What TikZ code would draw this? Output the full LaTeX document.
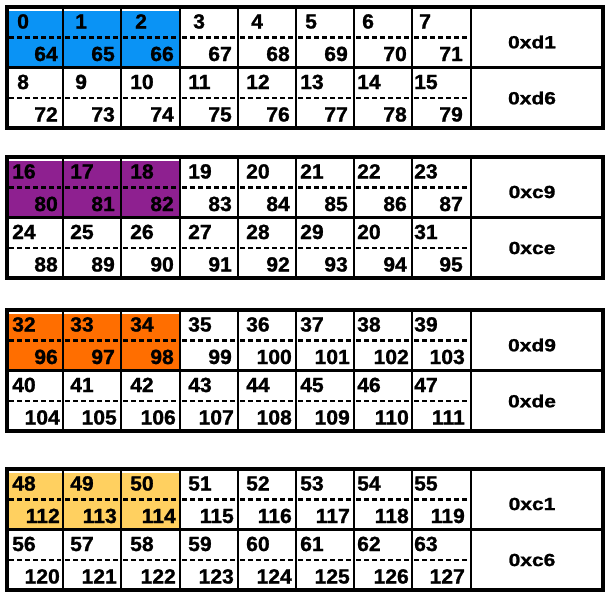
\documentclass[tikz,border=0pt]{standalone}
\usepackage{fontspec}
\setmainfont{Liberation Sans}[BoldFeatures={FakeBold=1.2}]
\usepackage{graphicx}
\definecolor{cblue}{HTML}{0A93F5}
\definecolor{cplum}{HTML}{8E2090}
\definecolor{corange}{HTML}{FF6E00}
\definecolor{cyellow}{HTML}{FFD060}
\newcommand\widen[1]{\scalebox{1.03}[1]{#1}}
\newcommand\widelab[1]{\scalebox{1.2}[1]{#1}}
\tikzset{
  num/.style={inner sep=0pt, font=\fontsize{20.5}{21}\selectfont\bfseries},
  lab/.style={inner sep=0pt, font=\fontsize{17.5}{18}\selectfont\bfseries},
  dashline/.style={line width=2.4pt, dash pattern=on 5pt off 3pt},
  gridline/.style={line width=2.8pt},
  outerline/.style={line width=3.2pt}
}
\begin{document}
\begin{tikzpicture}[x=1pt,y=-1pt]
\useasboundingbox (0,0) rectangle (611,598);
\fill[white] (0,0) rectangle (611,598);
\foreach \b/\T/\col in {0/7/cblue,1/157/cplum,2/310/corange,3/469/cyellow}{
  \fill[\col] (8,\T+3.5) rectangle (180,\T+60);
  \foreach \r in {0,1}{
    \pgfmathsetmacro\R{\T+60.5*\r}
    \foreach \c/\xl/\xr/\o/\ro in {0/7/63/5/5,1/63/121/7/6,2/121/180/9/6,3/180/238/8/6,4/238/296/8/6,5/296/354/4/6,6/354/412/3/5,7/412/471/2/8}{
      \draw[dashline] (\xl+2,\R+30.5) -- (\xr-2,\R+30.5);
      \pgfmathtruncatemacro\n{16*\b+8*\r+\c}
      \pgfmathtruncatemacro\m{\n+64}
      \ifnum\n=30 \def\lbl{20}\else\let\lbl\n\fi
      \ifnum\n<10 \def\extra{5}\else\def\extra{0}\fi
      \ifnum\m>99 \def\rx{-2}\else\def\rx{0}\fi
      \node[num, anchor=base west] (t-\b-\r-\c) at (\xl+\o+\extra,\R+21.5) {\widen{\lbl}};
      \node[num, anchor=base east] (u-\b-\r-\c) at (\xr-\ro-\rx,\R+54) {\widen{\m}};
    }
  }
  \draw[outerline] (7,\T) rectangle (603,\T+121);
  \draw[gridline] (7,\T+60.5) -- (603,\T+60.5);
  \foreach \x in {63,121,180,238,296,354,412,471}{
    \draw[gridline] (\x,\T) -- (\x,\T+121);
  }
}
\foreach \b/\T/\la/\lb in {0/7/0xd1/0xd6,1/157/0xc9/0xce,2/310/0xd9/0xde,3/469/0xc1/0xc6}{
  \node[lab] (l-\b-0) at (532,\T+35) {\widelab{\la}};
  \node[lab] (l-\b-1) at (532,\T+91) {\widelab{\lb}};
}
\end{tikzpicture}
\end{document}
